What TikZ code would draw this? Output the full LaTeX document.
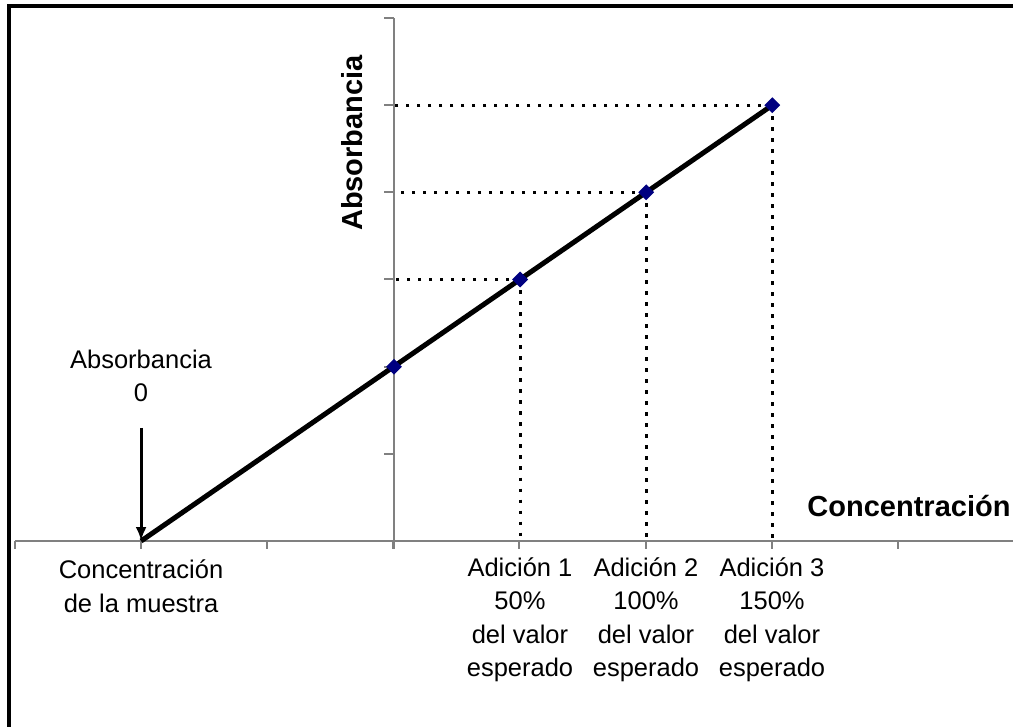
\documentclass[tikz,border=0pt]{standalone}
\usepackage{fontspec}
\setmainfont{Liberation Sans}
\usetikzlibrary{shapes.geometric,arrows.meta}
\definecolor{marcador}{RGB}{0,0,128}
\definecolor{gris}{RGB}{128,128,128}

\begin{document}
\begin{tikzpicture}[x=1pt,y=-1pt,
    eje/.style={draw=gris, line width=2pt},
    recta/.style={draw=black, line width=5pt},
    guia/.style={draw=black, line width=3pt, dash pattern=on 3.5pt off 7.5pt},
    punto/.style={diamond, fill=marcador, inner sep=0pt, minimum size=16pt},
    flecha/.style={draw=black, line width=3pt, -{Latex[length=14pt,width=11pt]}},
    texto/.style={font=\fontsize{25.5}{33.5}\selectfont, align=center, inner sep=0pt},
    titulo/.style={font=\fontsize{29}{34}\selectfont\bfseries, inner sep=0pt}]
    \useasboundingbox (0,0) rectangle (1013,727);
    % marco
    \draw[line width=4pt] (8.5,727) -- (8.5,6.5) -- (1013,6.5);
    % ejes
    \coordinate (xi) at (15,541);
    \coordinate (xf) at (1013,541);
    \coordinate (yi) at (394,549);
    \coordinate (yf) at (394,18);
    \draw[eje] (xi) -- (xf);
    \draw[eje] (yi) -- (yf);
    \foreach \i in {0,...,7}
        \draw[eje] (15+126.1*\i,541) -- ++(0,8);
    \foreach \j in {1,...,6}
        \draw[eje] (394,541-87.17*\j) -- ++(-10,0);
    % datos
    \coordinate (o) at (141.1,541);
    \coordinate (c0) at (394,366.7);
    \coordinate (c1) at (520.1,279.5);
    \coordinate (c2) at (646.2,192.3);
    \coordinate (c3) at (772.3,105.2);
    \foreach \c in {c1,c2,c3} {
        \draw[guia] (\c) -- (\c -| yf);
        \draw[guia] (\c) -- (\c |- xi);
    }
    \draw[recta] (o) -- (c3);
    \node[punto] (p0) at (c0) {};
    \node[punto] (p1) at (c1) {};
    \node[punto] (p2) at (c2) {};
    \node[punto] (p3) at (c3) {};
    % textos
    \node[titulo, rotate=90] (absorb) at (352,143) {Absorbancia};
    \node[titulo] (conc) at (909,506) {Concentración};
    \node[texto] (cero) at (141,376) {Absorbancia\\0};
    \coordinate (a) at (141.1,428);
    \draw[flecha] (a) -- (o);
    \node[texto] (muestra) at (141,586) {Concentración\\de la muestra};
    \node[texto] (ad1) at (520,620) {Adición 1\\50\%\\del valor\\esperado};
    \node[texto] (ad2) at (646,620) {Adición 2\\100\%\\del valor\\esperado};
    \node[texto] (ad3) at (772,620) {Adición 3\\150\%\\del valor\\esperado};
\end{tikzpicture}
\end{document}
